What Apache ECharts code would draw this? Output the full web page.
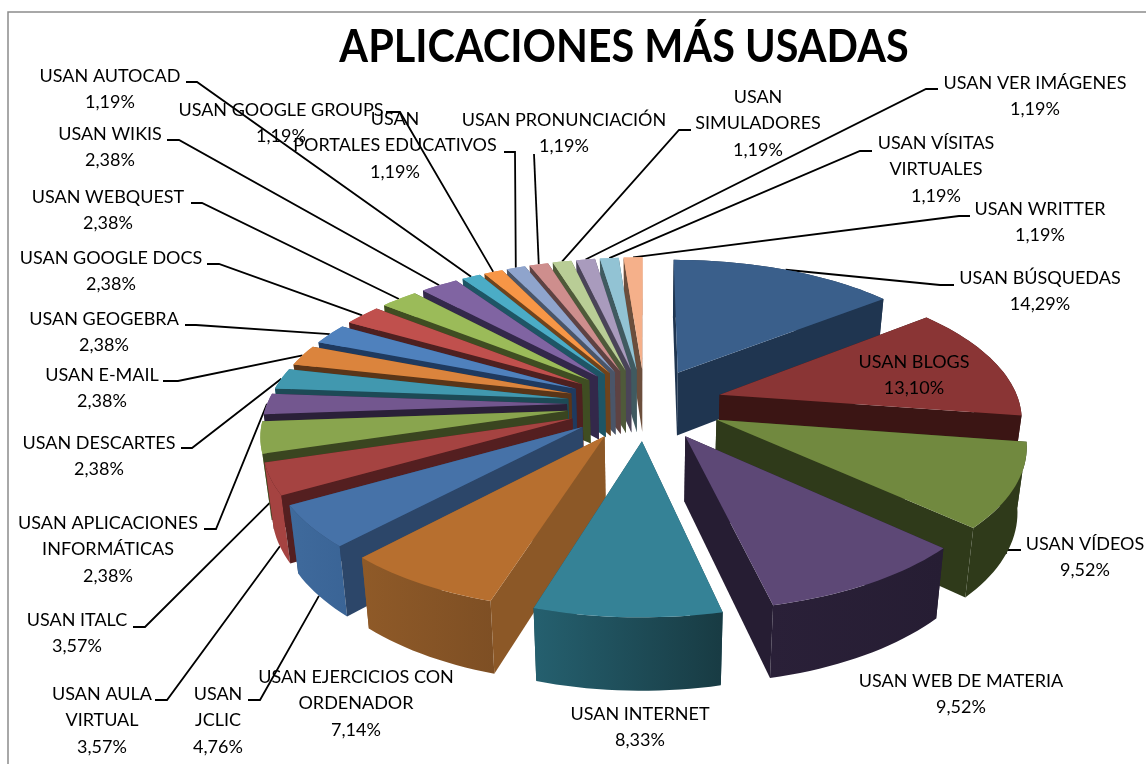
<!DOCTYPE html>
<html>
<head>
<meta charset="utf-8">
<title>Aplicaciones más usadas</title>
<style>
  html, body { margin: 0; padding: 0; background: #fff; }
  #chart { width: 1146px; height: 764px; }
</style>
<script src="https://cdn.jsdelivr.net/npm/echarts@6/dist/echarts.min.js"></script>
</head>
<body>
<div id="chart"></div>
<script>
// data
const chartTitle = 'APLICACIONES MÁS USADAS';
const categories = [
  'USAN BÚSQUEDAS', 'USAN BLOGS', 'USAN VÍDEOS', 'USAN WEB DE MATERIA', 'USAN INTERNET',
  'USAN EJERCICIOS CON\nORDENADOR', 'USAN\nJCLIC', 'USAN AULA\nVIRTUAL', 'USAN ITALC',
  'USAN APLICACIONES\nINFORMÁTICAS', 'USAN DESCARTES', 'USAN E-MAIL', 'USAN GEOGEBRA',
  'USAN GOOGLE DOCS', 'USAN WEBQUEST', 'USAN WIKIS', 'USAN AUTOCAD', 'USAN GOOGLE GROUPS',
  'USAN\nPORTALES EDUCATIVOS', 'USAN PRONUNCIACIÓN', 'USAN\nSIMULADORES', 'USAN VER IMÁGENES',
  'USAN VÍSITAS\nVIRTUALES', 'USAN WRITTER'
];
const percents = [
  14.29, 13.10, 9.52, 9.52, 8.33, 7.14, 4.76, 3.57, 3.57, 2.38, 2.38, 2.38,
  2.38, 2.38, 2.38, 2.38, 1.19, 1.19, 1.19, 1.19, 1.19, 1.19, 1.19, 1.19
];

// colours: top face, radial wall, outer wall left / right
const topColors = ['#3A5F8B','#8A3535','#71893F','#5D4876','#358296','#B76F2F','#4672A8','#A54341',
  '#89A54E','#73578F','#4198AF','#DB843D','#4F81BD','#C0504D','#9BBB59','#8064A2',
  '#4BACC6','#F79646','#8FA4CC','#CE8E8D','#B9CD96','#A99BBD','#92C3D4','#F5B08A'];
const sideColors = ['#1F3550','#3B1514','#2F3A1A','#261D33','#1E4A56','#8C5827','#2C4669','#541F20',
  '#3A4520','#2A2038','#1D4A56','#5A3518','#1F3A5F','#4E2020','#3F4D22','#33284A',
  '#1E5565','#6F431C','#4A5568','#5E4242','#4F5A3A','#4A4458','#405A60','#6B4E3C'];
const rimLeft = ['#1F3550','#3B1514','#2F3A1A','#2A2038','#25606F','#8F5A28','#3F6A9C','#A54341',
  '#89A54E','#73578F','#4198AF','#DB843D','#4F81BD','#C0504D','#9BBB59','#8064A2',
  '#4BACC6','#F79646','#8FA4CC','#CE8E8D','#B9CD96','#A99BBD','#92C3D4','#F5B08A'];
const rimRight = ['#1F3550','#3B1514','#2F3A1A','#261D33','#183B43','#7E4F24','#3A6496','#A54341',
  '#89A54E','#73578F','#4198AF','#DB843D','#4F81BD','#C0504D','#9BBB59','#8064A2',
  '#4BACC6','#F79646','#8FA4CC','#CE8E8D','#B9CD96','#A99BBD','#92C3D4','#F5B08A'];

// label layout: centre x, centre y of the first line
const labelPos = [
  [1040,278],[914,362],[1085,544],[961,681],[640,714],[356,677],[218,694],[102,694],[77,620],
  [108,523],[99,443],[102,375],[104,319],[111,258],[108,197],[110,134],[110,76],[281,110],
  [395,119],[564,120],[758,97],[1035,83],[936,143],[1040,209]
];
// leader start: stub points next to the text, null = no leader
const leaderStart = [
  [[954,285],[940,285]], null, [[1021,550],[1006,550]], null, null, null,
  [[248,700],[260,700]], [[155,700],[167,700]], [[133,627],[145,627]],
  [[204,529],[216,529]], [[181,448],[192,448]], [[163,381],[178,381]], [[185,325],[196,325]],
  [[207,264],[219,264]], [[191,203],[202,203]], [[167,140],[179,140]], [[186,82],[197,82]],
  [[386,112],[400,112]], [[504,152],[515,152]], [[534,154]], [[691,130],[679,130]],
  [[938,89],[926,89]], [[872,151],[860,151]], [[970,216],[959,216]]
];
// leaders that stop at the bottom edge of the wall
const leaderAtBase = [2, 6, 7, 8];

// projection of the tilted pie
const CX = 645, CY = 404, SQUASH = 0.46, PERSP = 0.00049;
const RADIUS = 300, EXPLODE = 78, WALL = 64, BASE_SHRINK = 0.025;
const TEXT_FONT = 'Lato';

function project(x, y, z) {
  const w = 1 + PERSP * y;
  const s = w * (1 + BASE_SHRINK * z);
  return [CX + x / s, CY - SQUASH * y / s + WALL * z / w];
}

const total = percents.reduce((a, b) => a + b, 0);
let cum = 0;
const slices = percents.map((v, i) => {
  const a0 = cum / total * 2 * Math.PI;
  cum += v;
  const a1 = cum / total * 2 * Math.PI;
  const mid = (a0 + a1) / 2;
  return { i, a0, a1, mid, ox: EXPLODE * Math.sin(mid), oy: EXPLODE * Math.cos(mid) };
});

function rimPoint(s, a, z) {
  return project(s.ox + RADIUS * Math.sin(a), s.oy + RADIUS * Math.cos(a), z);
}
function arcPoints(s, z) {
  const n = Math.max(2, Math.ceil((s.a1 - s.a0) / 0.03));
  const pts = [];
  for (let k = 0; k <= n; k++) pts.push(rimPoint(s, s.a0 + (s.a1 - s.a0) * k / n, z));
  return pts;
}

// back slices first
const drawOrder = slices.slice().sort((p, q) => Math.cos(q.mid) - Math.cos(p.mid));

function renderSlice(params, api) {
  const s = slices[api.value(0)];
  const rank = params.dataIndex;
  const apexTop = project(s.ox, s.oy, 0);
  const apexBot = project(s.ox, s.oy, 1);
  const top = arcPoints(s, 0);
  const bot = arcPoints(s, 1);

  const faces = [
    { pts: [apexTop, top[0], bot[0], apexBot], depth: Math.cos(s.a0), fill: sideColors[s.i] },
    { pts: [apexTop, top[top.length - 1], bot[bot.length - 1], apexBot], depth: Math.cos(s.a1), fill: sideColors[s.i] },
    {
      pts: top.concat(bot.slice().reverse()), depth: Math.cos(s.mid) + 0.001,
      fill: { type: 'linear', x: 0, y: 0, x2: 1, y2: 0, colorStops: [
        { offset: 0, color: rimLeft[s.i] }, { offset: 1, color: rimRight[s.i] }
      ] }
    }
  ].sort((p, q) => q.depth - p.depth);

  const children = faces.map((f, k) => ({
    type: 'polygon', z2: rank * 10 + k,
    shape: { points: f.pts },
    style: { fill: f.fill }
  }));
  children.push({
    type: 'polygon', z2: rank * 10 + 5,
    shape: { points: [apexTop].concat(top) },
    style: { fill: topColors[s.i] }
  });
  return { type: 'group', children };
}

function renderLeader(params, api) {
  const i = api.value(0);
  const start = leaderStart[i];
  if (!start) return null;
  const s = slices[i];
  const z = leaderAtBase.indexOf(i) >= 0 ? 1 : 0;
  const end = rimPoint(s, s.mid, z);
  return {
    type: 'polyline',
    shape: { points: start.concat([end]) },
    style: { stroke: '#000', lineWidth: 1.8, fill: null }
  };
}

function renderLabel(params, api) {
  const i = api.value(0);
  const lines = categories[i].split('\n').concat(percents[i].toFixed(2).replace('.', ',') + '%');
  return {
    type: 'group',
    children: lines.map((t, k) => ({
      type: 'text',
      style: {
        text: t, x: labelPos[i][0], y: labelPos[i][1] + k * 26.5,
        fill: '#000', font: '18px ' + TEXT_FONT, textAlign: 'center', textVerticalAlign: 'middle'
      }
    }))
  };
}

const chart = echarts.init(document.getElementById('chart'), null, { renderer: 'canvas' });
chart.setOption({
  animation: false,
  backgroundColor: '#fff',
  graphic: [
    { type: 'polyline', silent: true, z: 0,
      shape: { points: [[8, 764], [8, 12], [1146, 12]] },
      style: { stroke: '#8c8c8c', lineWidth: 1.5, fill: null } },
    { type: 'text', silent: true, z: 4, x: 624, y: 47, scaleX: 0.92,
      style: { text: chartTitle, fill: '#000', font: 'bold 45px ' + TEXT_FONT,
        textAlign: 'center', textVerticalAlign: 'middle' } }
  ],
  series: [
    { type: 'custom', name: 'leaders', coordinateSystem: 'none', z: 1, silent: true,
      renderItem: renderLeader, data: slices.map(s => [s.i]) },
    { type: 'custom', name: 'slices', coordinateSystem: 'none', z: 2, silent: true,
      renderItem: renderSlice, data: drawOrder.map(s => [s.i, percents[s.i]]) },
    { type: 'custom', name: 'labels', coordinateSystem: 'none', z: 3, silent: true,
      renderItem: renderLabel, data: slices.map(s => [s.i]) }
  ]
});
</script>
</body>
</html>
